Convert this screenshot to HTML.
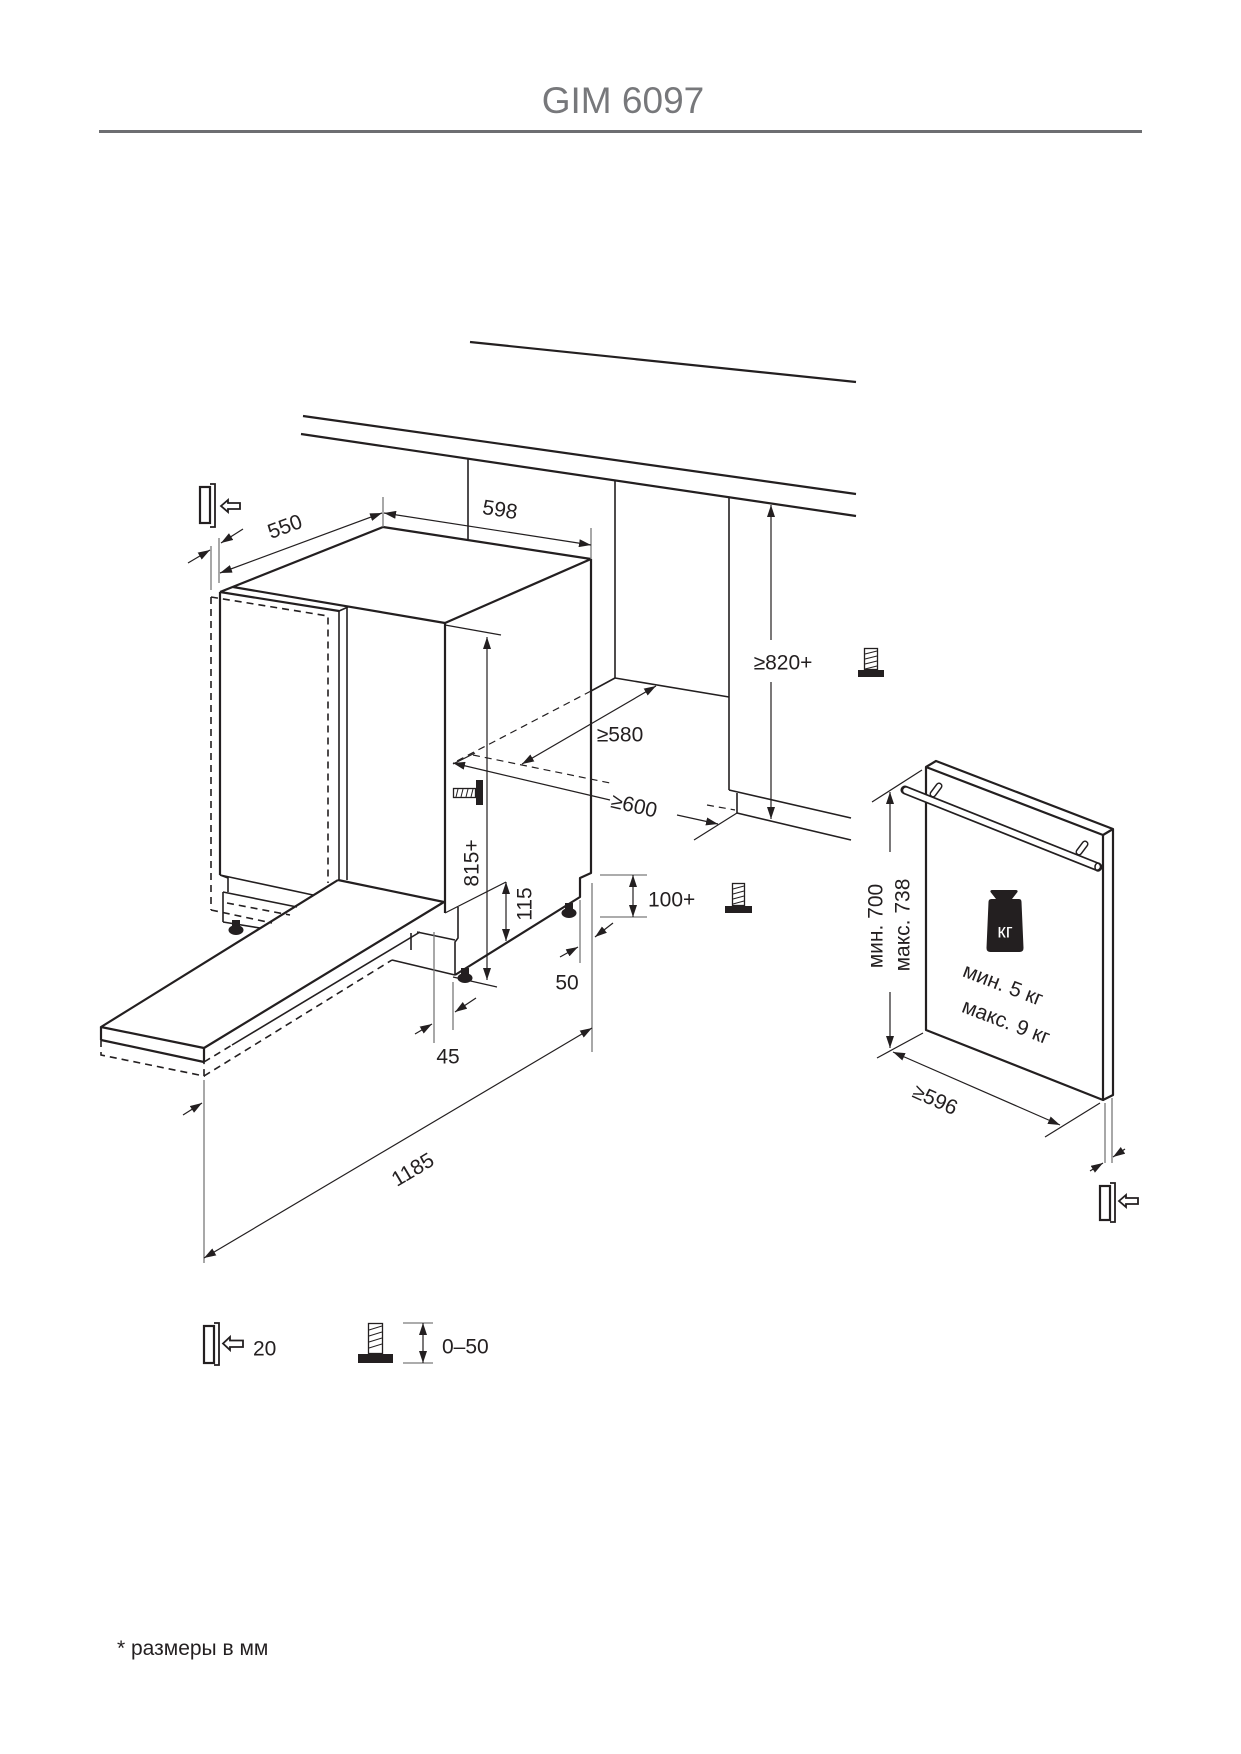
<!DOCTYPE html>
<html><head><meta charset="utf-8"><style>
html,body{margin:0;padding:0;background:#fff;}
svg{display:block;}
text{font-family:"Liberation Sans","DejaVu Sans",sans-serif;fill:#231f20;font-size:21px;}
.o{stroke:#231f20;stroke-width:2.2;fill:none;stroke-linejoin:round;}
.m{stroke:#231f20;stroke-width:1.6;fill:none;}
.t{stroke:#231f20;stroke-width:1.2;fill:none;}
.g{stroke:#7a7a7a;stroke-width:1.3;fill:none;}
.d{stroke-dasharray:7 5;}
.c{dominant-baseline:central;text-anchor:middle;}
</style></head><body>
<svg width="1241" height="1754" viewBox="0 0 1241 1754" xmlns="http://www.w3.org/2000/svg">
<defs>
<marker id="a" viewBox="0 0 12 8" refX="12" refY="4" markerWidth="12" markerHeight="8" markerUnits="userSpaceOnUse" orient="auto-start-reverse"><path d="M0,0 L12,4 L0,8 Z" fill="#231f20"/></marker>
</defs>

<!-- Title -->
<text x="623" y="113" text-anchor="middle" style="font-size:37px;fill:#77787b">GIM 6097</text>
<rect x="99" y="130" width="1043" height="3" fill="#6d6e71"/>

<!-- counter lines -->
<line class="o" x1="470" y1="342" x2="856" y2="382"/>
<line class="o" x1="303" y1="416" x2="856" y2="494"/>
<line class="o" x1="301" y1="434" x2="856" y2="516"/>

<!-- cabinet niche -->
<line class="m" x1="468" y1="458" x2="468" y2="540"/>
<line class="m" x1="615" y1="480" x2="615" y2="678"/>
<line class="m" x1="729" y1="497" x2="729" y2="790"/>
<line class="m" x1="615" y1="678" x2="729" y2="697"/>
<line class="m" x1="615" y1="678" x2="591" y2="691"/>
<line class="t d" x1="591" y1="691" x2="455" y2="762"/>
<line class="t d" x1="473" y1="755" x2="610" y2="783"/>
<line class="t" x1="453" y1="764" x2="475" y2="753"/>
<line class="m" x1="729" y1="790" x2="851" y2="818"/>
<line class="m" x1="737" y1="793" x2="737" y2="813"/>
<line class="m" x1="737" y1="813" x2="851" y2="840"/>
<line class="t d" x1="707" y1="805" x2="735" y2="810"/>
<line class="t" x1="694" y1="840" x2="737" y2="813"/>

<!-- dimension >=820+ -->
<line class="t" x1="771" y1="505" x2="771" y2="640" marker-start="url(#a)"/>
<line class="t" x1="771" y1="682" x2="771" y2="819" marker-end="url(#a)"/>
<text class="c" x="783" y="663">≥820+</text>

<!-- >=580 -->
<line class="t" x1="522" y1="764" x2="656" y2="686" marker-start="url(#a)" marker-end="url(#a)"/>
<text class="c" x="620" y="735">≥580</text>
<!-- >=600 -->
<line class="t" x1="453" y1="763" x2="610" y2="800" marker-start="url(#a)"/>
<line class="t" x1="677" y1="815" x2="718" y2="824" marker-end="url(#a)"/>
<text class="c" x="634" y="806" transform="rotate(13 634 806)">≥600</text>

<!-- appliance top -->
<line class="o" x1="383" y1="527" x2="591" y2="559"/>
<line class="o" x1="591" y1="559" x2="445" y2="623"/>
<line class="o" x1="383" y1="527" x2="220" y2="592"/>
<line class="o" x1="233" y1="587" x2="445" y2="623"/>
<!-- door panel -->
<line class="o" x1="220" y1="592" x2="339" y2="611"/>
<line class="m" x1="339" y1="611" x2="348" y2="607"/>
<line class="m" x1="339" y1="611" x2="339" y2="880"/>
<line class="m" x1="347" y1="607" x2="347" y2="880"/>
<line class="o" x1="220" y1="592" x2="220" y2="875"/>
<polyline class="m d" points="211,597 328,616 328,883"/>
<line class="m d" x1="211" y1="597" x2="211" y2="910"/>
<!-- right side -->
<line class="o" x1="445" y1="623" x2="445" y2="913"/>
<polyline class="o" points="591,559 591,873 580,878 580,897 455,975"/>

<!-- left door bottom -->
<line class="m" x1="220" y1="875" x2="313" y2="895"/>
<polyline class="m" points="220,875 228,878 228,892"/>
<line class="m" x1="223" y1="892" x2="297" y2="907"/>
<line class="m" x1="223" y1="892" x2="223" y2="922"/>
<line class="m" x1="223" y1="922" x2="260" y2="928"/>
<line class="m d" x1="211" y1="910" x2="272" y2="923"/>
<line class="m d" x1="227" y1="903" x2="290" y2="915"/>

<!-- plinth -->
<polyline class="m" points="458,907 458,938 455,942 455,975"/>
<line class="m" x1="417" y1="932" x2="455" y2="940"/>
<line class="m" x1="411" y1="933" x2="411" y2="950"/>
<line class="m" x1="392" y1="960" x2="455" y2="975"/>

<!-- tray (open door) -->
<polyline class="o" points="338,880 101,1027 204,1048 444,902 338,880"/>
<line class="o" x1="101" y1="1027" x2="101" y2="1040"/>
<line class="o" x1="204" y1="1048" x2="204" y2="1062"/>
<line class="o" x1="101" y1="1040" x2="204" y2="1062"/>
<line class="m d" x1="204" y1="1062" x2="232" y2="1045"/>
<line class="m" x1="232" y1="1045" x2="420" y2="932"/>
<polyline class="m d" points="101,1040 101,1055 204,1076 204,1062"/>
<line class="m d" x1="204" y1="1076" x2="392" y2="960"/>

<!-- feet -->
<g fill="#231f20">
<rect x="232" y="920" width="8" height="6"/><ellipse cx="236" cy="930" rx="7.5" ry="5"/>
<rect x="461" y="968" width="8" height="6"/><ellipse cx="465" cy="978" rx="7.5" ry="5"/>
<rect x="565" y="903" width="8" height="6"/><ellipse cx="569" cy="913" rx="7.5" ry="5"/>
</g>

<!-- 550 -->
<line class="g" x1="383" y1="497" x2="383" y2="527"/>
<line class="g" x1="219" y1="538" x2="219" y2="583"/>
<line class="g" x1="211" y1="546" x2="211" y2="590"/>
<line class="t" x1="220" y1="573" x2="382" y2="513" marker-start="url(#a)" marker-end="url(#a)"/>
<line class="t" x1="188" y1="563" x2="210" y2="550" marker-end="url(#a)"/>
<line class="t" x1="243" y1="529" x2="221" y2="543" marker-end="url(#a)"/>
<text class="c" x="285" y="527" transform="rotate(-20.3 285 527)">550</text>

<!-- 598 -->
<line class="g" x1="591" y1="528" x2="591" y2="559"/>
<line class="t" x1="384" y1="513" x2="591" y2="545" marker-start="url(#a)" marker-end="url(#a)"/>
<text class="c" x="500" y="510" transform="rotate(8.8 500 510)">598</text>

<!-- 815+ -->
<line class="t" x1="445" y1="625" x2="501" y2="635"/>
<line class="t" x1="453" y1="977" x2="497" y2="987"/>
<line class="t" x1="487" y1="637" x2="487" y2="980" marker-start="url(#a)" marker-end="url(#a)"/>
<text class="c" x="472" y="863" transform="rotate(-90 472 863)">815+</text>

<!-- 115 -->
<line class="t" x1="445" y1="913" x2="506" y2="882"/>
<line class="t" x1="506" y1="882" x2="506" y2="941" marker-start="url(#a)" marker-end="url(#a)"/>
<text class="c" x="525" y="904" transform="rotate(-90 525 904)">115</text>

<!-- 100+ -->
<line class="g" x1="600" y1="875" x2="647" y2="875"/>
<line class="g" x1="600" y1="917" x2="647" y2="917"/>
<line class="t" x1="633" y1="875" x2="633" y2="917" marker-start="url(#a)" marker-end="url(#a)"/>
<text x="648" y="900" style="dominant-baseline:central">100+</text>

<!-- 50 -->
<line class="g" x1="580" y1="900" x2="580" y2="963"/>
<line class="g" x1="592" y1="883" x2="592" y2="1052"/>
<line class="t" x1="560" y1="957" x2="578" y2="947" marker-end="url(#a)"/>
<line class="t" x1="613" y1="923" x2="595" y2="937" marker-end="url(#a)"/>
<text class="c" x="567" y="983">50</text>

<!-- 45 -->
<line class="g" x1="434" y1="932" x2="434" y2="1043"/>
<line class="g" x1="453" y1="982" x2="453" y2="1030"/>
<line class="t" x1="415" y1="1034" x2="432" y2="1024" marker-end="url(#a)"/>
<line class="t" x1="476" y1="998" x2="455" y2="1012" marker-end="url(#a)"/>
<text class="c" x="448" y="1057">45</text>

<!-- 1185 -->
<line class="g" x1="204" y1="1080" x2="204" y2="1263"/>
<line class="t" x1="592" y1="1028" x2="204" y2="1258" marker-start="url(#a)" marker-end="url(#a)"/>
<line class="t" x1="183" y1="1115" x2="202" y2="1103" marker-end="url(#a)"/>
<text class="c" x="413" y="1170" transform="rotate(-30.7 413 1170)">1185</text>

<!-- screw icons -->
<g>
<rect x="864.5" y="648.5" width="13" height="21" fill="#fff" stroke="#231f20" stroke-width="1.3"/>
<path d="M865,654 L877,651 M865,659 L877,656 M865,664 L877,661 M865,669 L877,666" stroke="#231f20" stroke-width="1"/>
<rect x="858" y="670" width="26" height="7" fill="#231f20"/>
</g>
<g>
<rect x="732.5" y="883.5" width="12" height="22" fill="#fff" stroke="#231f20" stroke-width="1.3"/>
<path d="M733,889 L744,886 M733,894 L744,891 M733,899 L744,896 M733,904 L744,901" stroke="#231f20" stroke-width="1"/>
<rect x="725" y="906" width="27" height="7" fill="#231f20"/>
</g>
<g>
<rect x="453.5" y="788.5" width="22" height="9" fill="#fff" stroke="#231f20" stroke-width="1.3"/>
<path d="M458,789 L456,797 M463,789 L461,797 M468,789 L466,797 M473,789 L471,797" stroke="#231f20" stroke-width="1"/>
<rect x="476" y="780" width="7" height="25" fill="#231f20"/>
</g>
<g>
<rect x="368.5" y="1323.5" width="14" height="30" fill="#fff" stroke="#231f20" stroke-width="1.3"/>
<path d="M369,1330 L382,1326 M369,1336 L382,1332 M369,1342 L382,1338 M369,1348 L382,1344" stroke="#231f20" stroke-width="1"/>
<rect x="358" y="1354" width="35" height="9" fill="#231f20"/>
</g>

<!-- panel icons -->
<g stroke="#231f20" fill="none">
<rect x="200" y="487" width="10" height="36" stroke-width="2.2"/>
<polyline points="210,484 215,484 215,527 210,527" stroke-width="1.8"/>
<path d="M221,506 L228,500 L228,503 L240,503 L240,509 L228,509 L228,512 Z" stroke-width="1.8" fill="#fff"/>
</g>
<g stroke="#231f20" fill="none">
<rect x="204" y="1326" width="10" height="37" stroke-width="2.2"/>
<polyline points="214,1323 219,1323 219,1365 214,1365" stroke-width="1.8"/>
<path d="M223,1343.5 L230,1337 L230,1340.5 L243,1340.5 L243,1347 L230,1347 L230,1350 Z" stroke-width="1.8" fill="#fff"/>
</g>
<g stroke="#231f20" fill="none">
<rect x="1100" y="1186" width="10" height="34" stroke-width="2.2"/>
<polyline points="1110,1183 1115,1183 1115,1222 1110,1222" stroke-width="1.8"/>
<path d="M1119,1201 L1126,1195 L1126,1198 L1138,1198 L1138,1204 L1126,1204 L1126,1207 Z" stroke-width="1.8" fill="#fff"/>
</g>

<!-- legend -->
<text x="253" y="1349" style="dominant-baseline:central">20</text>
<line class="g" x1="403" y1="1323" x2="433" y2="1323"/>
<line class="g" x1="403" y1="1363" x2="433" y2="1363"/>
<line class="t" x1="423" y1="1323" x2="423" y2="1363" marker-start="url(#a)" marker-end="url(#a)"/>
<text x="442" y="1347" style="dominant-baseline:central">0–50</text>

<!-- right panel -->
<polygon class="o" points="926,767 1103,835 1103,1100 926,1030" stroke-width="2.6"/>
<polyline class="o" points="926,767 936,761 1113,829 1113,1095 1103,1100" stroke-width="2.4"/>
<line class="o" x1="1103" y1="835" x2="1113" y2="829"/>
<!-- handle standoffs -->
<line x1="933" y1="794" x2="939" y2="786" stroke="#231f20" stroke-width="7" stroke-linecap="round"/>
<line x1="933" y1="794" x2="939" y2="786" stroke="#fff" stroke-width="4" stroke-linecap="round"/>
<line x1="1079" y1="852" x2="1085" y2="844" stroke="#231f20" stroke-width="7" stroke-linecap="round"/>
<line x1="1079" y1="852" x2="1085" y2="844" stroke="#fff" stroke-width="4" stroke-linecap="round"/>
<!-- handle -->
<line x1="905" y1="790" x2="1098" y2="867" stroke="#231f20" stroke-width="9" stroke-linecap="round"/>
<line x1="906" y1="790.4" x2="1097" y2="866.6" stroke="#fff" stroke-width="5.5" stroke-linecap="round"/>
<ellipse cx="1098" cy="867" rx="3" ry="4" fill="none" stroke="#231f20" stroke-width="1.5"/>
<!-- weight icon -->
<path d="M992,890 L1016,890 Q1018,890 1017.5,892 L1012,899 L1019,899 Q1021.5,899 1021.5,902 L1023.5,948 Q1023.5,952 1019.5,952 L990.5,952 Q986.5,952 986.5,948 L988.5,902 Q988.5,899 991.5,899 L996,899 L990.5,892 Q990,890 992,890 Z" fill="#231f20"/>
<text class="c" x="1005" y="932" style="fill:#fff;font-size:19px">кг</text>
<text class="c" x="1003" y="985" transform="rotate(21 1003 985)">мин. 5 кг</text>
<text class="c" x="1006" y="1022" transform="rotate(21 1006 1022)">макс. 9 кг</text>
<!-- height dim -->
<line class="t" x1="872" y1="802" x2="922" y2="770"/>
<line class="t" x1="877" y1="1058" x2="923" y2="1033"/>
<line class="t" x1="890" y1="792" x2="890" y2="852" marker-start="url(#a)"/>
<line class="t" x1="890" y1="992" x2="890" y2="1048" marker-end="url(#a)"/>
<text class="c" x="876" y="926" transform="rotate(-90 876 926)">мин. 700</text>
<text class="c" x="903" y="925" transform="rotate(-90 903 925)">макс. 738</text>
<!-- >=596 -->
<line class="t" x1="1045" y1="1137" x2="1100" y2="1103"/>
<line class="t" x1="893" y1="1052" x2="1060" y2="1125" marker-start="url(#a)" marker-end="url(#a)"/>
<text class="c" x="935" y="1100" transform="rotate(24 935 1100)">≥596</text>
<line class="g" x1="1105" y1="1103" x2="1105" y2="1163"/>
<line class="g" x1="1112" y1="1098" x2="1112" y2="1163"/>
<line class="t" x1="1090" y1="1171" x2="1103" y2="1163" marker-end="url(#a)"/>
<line class="t" x1="1125" y1="1149" x2="1113" y2="1157" marker-end="url(#a)"/>

<!-- footnote -->
<text x="117" y="1655" style="font-size:21px">* размеры в мм</text>
</svg>
</body></html>
